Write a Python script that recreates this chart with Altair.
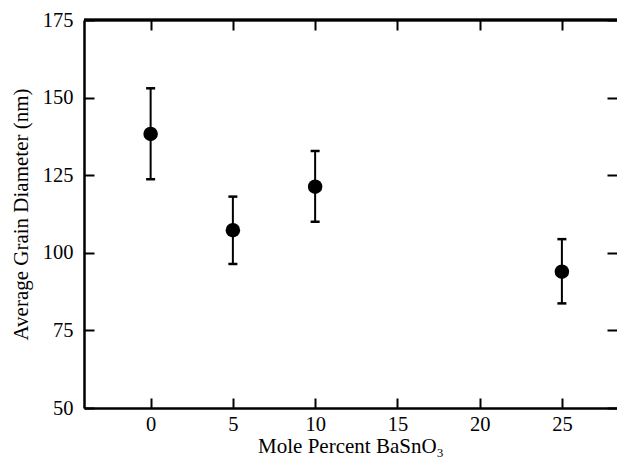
import altair as alt
import pandas as pd

# Data
mole_percent = [0, 5, 10, 25]
grain_diameter = [138.3, 107.3, 121.3, 93.9]
err_low = [123.7, 96.4, 110.0, 83.7]
err_high = [153.0, 118.1, 132.8, 104.4]
x_ticks = [0, 5, 10, 15, 20, 25]
y_ticks = [50, 75, 100, 125, 150, 175]

df = pd.DataFrame({
    "x": mole_percent,
    "y": grain_diameter,
    "lo": err_low,
    "hi": err_high,
})

FONT = "Liberation Serif"
W, H = 533, 388
xscale = alt.Scale(domain=[-4.05, 28.35], nice=False, zero=False)
yscale = alt.Scale(domain=[50, 175], nice=False, zero=False)

tick_axis = dict(domain=False, labels=False, title=None, tickSize=10, tickWidth=2,
                 tickColor="black", grid=False, offset=-10)

base = alt.Chart(df)

points = base.mark_point(filled=True, shape="circle", size=210, color="black", opacity=1).encode(
    x=alt.X("x:Q", scale=xscale, axis=alt.Axis(
        orient="bottom", values=x_ticks, title="Mole Percent BaSnO₃", ticks=False,
        domain=True, domainWidth=2.5, domainColor="black", grid=False,
        labelFont=FONT, labelFontSize=20.5, labelColor="black", labelPadding=6,
        titleFont=FONT, titleFontSize=21, titleColor="black", titleFontWeight="normal",
        titlePadding=1)),
    y=alt.Y("y:Q", scale=yscale, axis=alt.Axis(
        orient="left", values=y_ticks, title="Average Grain Diameter (nm)", ticks=False,
        domain=True, domainWidth=2.5, domainColor="black", grid=False,
        labelFont=FONT, labelFontSize=20.5, labelColor="black", labelPadding=11,
        titleFont=FONT, titleFontSize=21, titleColor="black", titleFontWeight="normal",
        titlePadding=11)),
)

bars = base.mark_rule(color="black", strokeWidth=2).encode(
    x=alt.X("x:Q", scale=xscale, axis=alt.Axis(orient="bottom", values=x_ticks, **tick_axis)),
    y=alt.Y("lo:Q", scale=yscale, axis=alt.Axis(orient="left", values=y_ticks, **tick_axis)),
    y2="hi:Q",
)

caps_lo = base.mark_tick(orient="horizontal", size=9, thickness=2.5, color="black", opacity=1).encode(
    x=alt.X("x:Q", scale=xscale, axis=alt.Axis(
        orient="top", values=x_ticks, labels=False, title=None, tickSize=10, tickWidth=2,
        tickColor="black", grid=False, domain=False, offset=-10)),
    y=alt.Y("lo:Q", scale=yscale, axis=alt.Axis(orient="right", values=y_ticks, **tick_axis)),
)

caps_hi = base.mark_tick(orient="horizontal", size=9, thickness=2.5, color="black", opacity=1).encode(
    x=alt.X("x:Q", scale=xscale, axis=None),
    y=alt.Y("hi:Q", scale=yscale, axis=None),
)

top_line = base.mark_rule(color="black", strokeWidth=2.5).encode(
    x=alt.value(0), x2=alt.value(W), y=alt.value(0)
)

chart = alt.layer(points, bars, caps_lo, caps_hi, top_line).resolve_axis(
    x="independent", y="independent"
).properties(
    width=W, height=H,
    autosize=alt.AutoSizeParams(type="none"),
    padding={"left": 76, "top": 12, "right": 0, "bottom": 52},
).configure_view(stroke=None).configure(background="white")

chart.save("out.html", embed_options={"renderer": "svg", "actions": False})
